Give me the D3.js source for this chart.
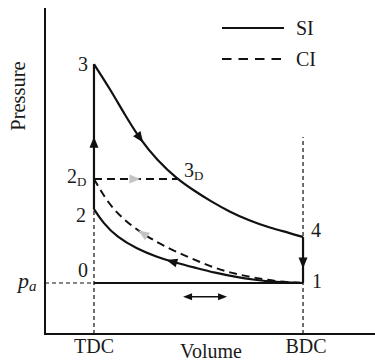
<!DOCTYPE html>
<html>
<head>
<meta charset="utf-8">
<style>
  body { margin: 0; background: #fff; }
  svg { display: block; }
  text { font-family: "Liberation Serif", "Times New Roman", serif; fill: #1a1a1a; }
</style>
</head>
<body>
<svg id="chart" width="375" height="362"></svg>
<script src="https://cdnjs.cloudflare.com/ajax/libs/d3/7.8.5/d3.min.js"></script>
<script>
// cycle corners (volume: TDC = 1, BDC = 8; pressure: p_a = 1)
const vTDC = 1, vBDC = 8;
const pA = 1, p2 = 2.45, p2D = 3.04, p3 = 5.29, p4 = 1.90, v3D = 3.78;
const pBDCguide = 3.86;

// expansion 3 -> 4 (SI and CI share it)
const expV = [1.00, 1.54, 2.04, 2.54, 3.11, 3.78, 4.38, 4.89, 5.56, 6.22, 6.89, 7.56, 8.00];
const expP = [5.29, 4.80, 4.29, 3.82, 3.41, 3.04, 2.80, 2.61, 2.39, 2.22, 2.08, 1.98, 1.90];

// compression 1 -> 2 (SI)
const compSIV = [1.00, 1.30, 1.77, 2.44, 3.11, 3.65, 4.45, 5.05, 5.72, 6.39, 7.06, 8.00];
const compSIP = [2.45, 2.18, 1.90, 1.67, 1.51, 1.41, 1.29, 1.20, 1.12, 1.06, 1.02, 1.00];

// compression 1 -> 2D (CI)
const compCIV = [1.00, 1.44, 1.97, 2.64, 3.31, 4.22, 5.05, 5.72, 6.39, 7.23, 8.00];
const compCIP = [3.04, 2.59, 2.25, 1.96, 1.73, 1.49, 1.29, 1.18, 1.10, 1.02, 1.00];

const legendNames = ["SI", "CI"];

const svg = d3.select("#chart");
const x = d3.scaleLinear().domain([-0.64, 10.41]).range([45, 375]);
const y = d3.scaleLinear().domain([0, 6.39]).range([334, 8]);

const zip = (vs, ps) => vs.map((v, i) => [v, ps[i]]);
const line = d3.line().x(d => x(d[0])).y(d => y(d[1])).curve(d3.curveBasis);
const straight = d3.line().x(d => x(d[0])).y(d => y(d[1]));

// guide lines (thin dashed)
const guides = [
  [[vTDC, 0], [vTDC, p2]],
  [[vBDC, 0], [vBDC, pBDCguide]],
  [[x.domain()[0], pA], [vTDC, pA]]
];
svg.selectAll(".guide").data(guides).join("path")
  .attr("class", "guide")
  .attr("d", straight)
  .attr("fill", "none").attr("stroke", "#111").attr("stroke-width", 1.2)
  .attr("stroke-dasharray", "4,3");

// axes
svg.append("path")
  .attr("d", `M${x.range()[0]},${y.range()[1]}V${y.range()[0]}H${x.range()[1]}`)
  .attr("fill", "none").attr("stroke", "#111").attr("stroke-width", 2);

// straight process lines
const solidSegs = [
  [[vTDC, pA], [vBDC, pA]],
  [[vTDC, p2], [vTDC, p3]],
  [[vBDC, p4], [vBDC, pA]]
];
svg.selectAll(".seg").data(solidSegs).join("path")
  .attr("class", "seg")
  .attr("d", straight)
  .attr("fill", "none").attr("stroke", "#111").attr("stroke-width", 2.2);

svg.append("path")
  .attr("d", straight([[vTDC, p2D], [v3D, p2D]]))
  .attr("fill", "none").attr("stroke", "#111").attr("stroke-width", 2)
  .attr("stroke-dasharray", "8,5");

// curves
const expPath = svg.append("path").attr("d", line(zip(expV, expP)))
  .attr("fill", "none").attr("stroke", "#111").attr("stroke-width", 2.2);
const siPath = svg.append("path").attr("d", line(zip(compSIV, compSIP)))
  .attr("fill", "none").attr("stroke", "#111").attr("stroke-width", 2.2);
const ciPath = svg.append("path").attr("d", line(zip(compCIV, compCIP)))
  .attr("fill", "none").attr("stroke", "#111").attr("stroke-width", 2)
  .attr("stroke-dasharray", "8,5");

// arrowheads
function arrow(px, py, ang, fill, len = 11, hw = 4.5) {
  svg.append("path")
    .attr("d", `M${len / 2},0L${-len / 2},${-hw}L${-len / 2},${hw}Z`)
    .attr("transform", `translate(${px},${py}) rotate(${ang * 180 / Math.PI})`)
    .attr("fill", fill);
}
function arrowOnPath(node, v, reverse, fill) {
  const total = node.getTotalLength(), tx = x(v);
  let lo = 0, hi = total;
  for (let i = 0; i < 40; i++) {
    const mid = (lo + hi) / 2;
    if (node.getPointAtLength(mid).x < tx) lo = mid; else hi = mid;
  }
  const a = node.getPointAtLength(Math.max(0, lo - 2));
  const b = node.getPointAtLength(Math.min(total, lo + 2));
  const p = node.getPointAtLength(lo);
  let ang = Math.atan2(b.y - a.y, b.x - a.x);
  if (reverse) ang += Math.PI;
  arrow(p.x, p.y, ang, fill);
}
arrowOnPath(expPath.node(), 2.54, false, "#111");
arrowOnPath(siPath.node(), 3.6, true, "#111");
arrowOnPath(ciPath.node(), 2.64, true, "#c4c4c4");
arrow(x(2.37), y(p2D), 0, "#c4c4c4");
arrow(x(vTDC), y(3.76), -Math.PI / 2, "#111");
arrow(x(vBDC), y(1.39), Math.PI / 2, "#111");

// stroke direction double arrow
const dblV = [4.0, 5.44], dblP = 0.73;
svg.append("line")
  .attr("x1", x(dblV[0]) + 3).attr("x2", x(dblV[1]) - 3)
  .attr("y1", y(dblP)).attr("y2", y(dblP))
  .attr("stroke", "#111").attr("stroke-width", 1.3);
arrow(x(dblV[0]) + 4, y(dblP), Math.PI, "#111", 9, 3.5);
arrow(x(dblV[1]) - 4, y(dblP), 0, "#111", 9, 3.5);

// point labels
const labels = [
  { t: "3", s: "", v: vTDC, p: p3, dx: -6, dy: 7, anchor: "end" },
  { t: "2", s: "D", v: vTDC, p: p2D, dx: -27, dy: 4, anchor: "start" },
  { t: "2", s: "", v: vTDC, p: p2, dx: -8, dy: 13, anchor: "end" },
  { t: "0", s: "", v: vTDC, p: pA, dx: -6, dy: -6, anchor: "end" },
  { t: "4", s: "", v: vBDC, p: p4, dx: 8, dy: 0, anchor: "start" },
  { t: "1", s: "", v: vBDC, p: pA, dx: 9, dy: 5, anchor: "start" },
  { t: "3", s: "D", v: v3D, p: p2D, dx: 7, dy: -2, anchor: "start" }
];
labels.forEach(l => {
  const txt = svg.append("text")
    .attr("x", x(l.v) + l.dx).attr("y", y(l.p) + l.dy)
    .attr("text-anchor", l.anchor).attr("font-size", 20).text(l.t);
  if (l.s) txt.append("tspan").attr("font-size", 13).attr("dy", 3).text(l.s);
});

// p_a
const pa = svg.append("text").attr("x", x.range()[0] - 27).attr("y", y(pA) + 5)
  .attr("font-size", 22).attr("font-style", "italic").text("p");
pa.append("tspan").attr("font-size", 15).attr("dy", 3).text("a");

// axis labels
svg.append("text").attr("x", x(vTDC)).attr("y", 353).attr("text-anchor", "middle")
  .attr("font-size", 20).text("TDC");
svg.append("text").attr("x", x(vBDC) + 3).attr("y", 353).attr("text-anchor", "middle")
  .attr("font-size", 20).text("BDC");
svg.append("text").attr("x", 211).attr("y", 358).attr("text-anchor", "middle")
  .attr("font-size", 20).text("Volume");
svg.append("text").attr("transform", "translate(25,96) rotate(-90)")
  .attr("text-anchor", "middle").attr("font-size", 20.5).text("Pressure");

// legend
const lg = svg.append("g").attr("transform", "translate(222,28)");
legendNames.forEach((n, i) => {
  lg.append("line").attr("x1", 0).attr("x2", 62).attr("y1", i * 31).attr("y2", i * 31)
    .attr("stroke", "#111").attr("stroke-width", 2.2)
    .attr("stroke-dasharray", i ? "9.5,7" : null);
  lg.append("text").attr("x", 74).attr("y", i * 31 + 7).attr("font-size", 20).text(n);
});
</script>
</body>
</html>
